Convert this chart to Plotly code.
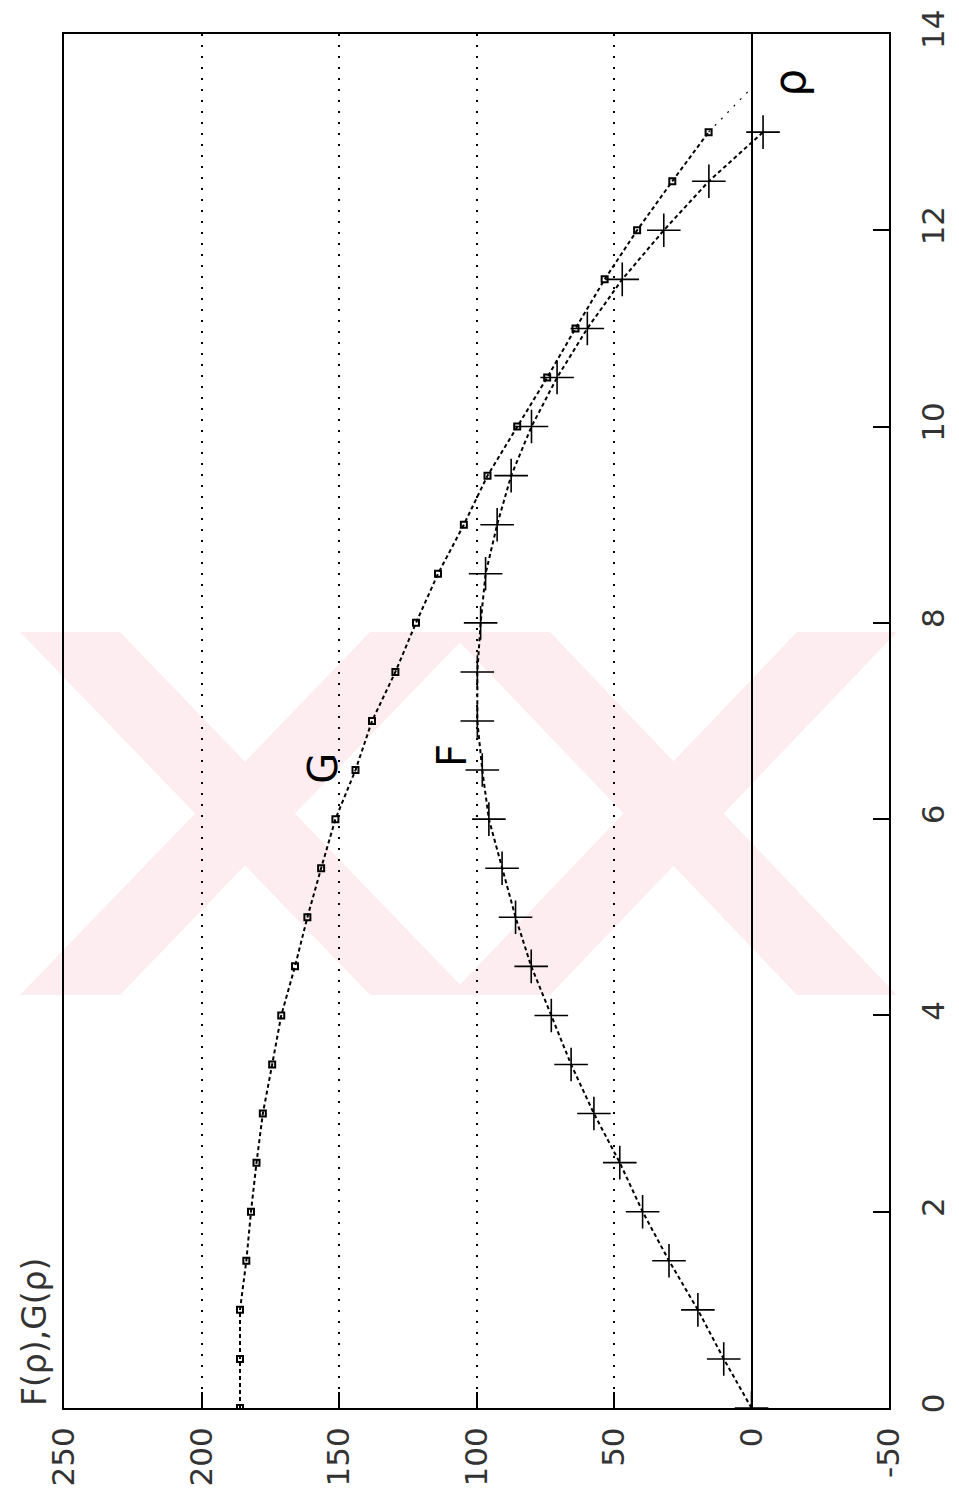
import plotly.graph_objects as go

# ---------------- data ----------------
rho = [0.0, 0.5, 1.0, 1.5, 2.0, 2.5, 3.0, 3.5, 4.0, 4.5, 5.0, 5.5, 6.0, 6.5,
       7.0, 7.5, 8.0, 8.5, 9.0, 9.5, 10.0, 10.5, 11.0, 11.5, 12.0, 12.5, 13.0]
F_vals = [0.0, 10.1, 19.5, 30.0, 39.6, 47.9, 57.3, 65.6, 72.8, 80.1, 85.8, 90.7,
          95.5, 97.9, 99.7, 99.7, 98.5, 96.7, 92.5, 87.4, 80.0, 70.7, 59.7, 47.0,
          31.9, 15.5, -4.2]
G_vals = [186.0, 186.0, 186.0, 183.7, 182.0, 180.0, 177.7, 174.3, 171.0, 166.0,
          161.5, 156.5, 151.3, 144.0, 138.0, 129.5, 122.0, 114.0, 104.6, 96.0,
          85.2, 74.3, 64.0, 53.4, 41.6, 28.8, 15.6]
G_tail_rho = [13.0, 13.45]
G_tail_vals = [15.6, 0.0]

value_ticks = [250, 200, 150, 100, 50, 0, -50]
value_labels = ["250", "200", "150", "100", "50", "0", "-50"]
rho_ticks = [0, 2, 4, 6, 8, 10, 12, 14]
rho_labels = ["0", "2", "4", "6", "8", "10", "12", "14"]

# ---------------- layout geometry ----------------
W, H = 959, 1503
ML, MR, MT, MB = 64, 70, 34, 95
PW, PH = W - ML - MR, H - MT - MB


def px(x):
    return (x - ML) / PW


def py(y):
    return (H - MB - y) / PH


fig = go.Figure()

fig.add_trace(go.Scatter(
    x=G_vals, y=rho, mode="lines+markers", name="G",
    line=dict(color="black", width=2, dash="4px,3px"),
    marker=dict(symbol="square-open", size=6, color="black",
                line=dict(width=2, color="black")),
    showlegend=False))
fig.add_trace(go.Scatter(
    x=G_tail_vals, y=G_tail_rho, mode="lines",
    line=dict(color="black", width=1.2, dash="2px,7px"),
    showlegend=False))
fig.add_trace(go.Scatter(
    x=F_vals, y=rho, mode="lines+markers", name="F",
    line=dict(color="black", width=2, dash="4px,3px"),
    marker=dict(symbol="cross-thin", size=24, color="black",
                line=dict(width=1.6, color="black")),
    showlegend=False))

# faint watermark (decorative pink "XX")
wm = "#fdedf0"
y0, y1 = 632, 995
shapes = []
for (x0, x1) in [(20, 470), (450, 897)]:
    bw = 100
    band1 = [(x0, y0), (x0 + bw, y0), (x1, y1), (x1 - bw, y1)]
    band2 = [(x1 - bw, y0), (x1, y0), (x0 + bw, y1), (x0, y1)]
    for band in (band1, band2):
        path = "M " + " L ".join(f"{px(a):.5f},{py(b):.5f}" for a, b in band) + " Z"
        shapes.append(dict(type="path", xref="paper", yref="paper", path=path,
                           fillcolor=wm, line=dict(width=0), layer="below"))

tick_font = dict(family="DejaVu Sans", size=31, color="#333333")

fig.update_layout(
    width=W, height=H,
    margin=dict(l=ML, r=MR, t=MT, b=MB, autoexpand=False),
    paper_bgcolor="white", plot_bgcolor="rgba(0,0,0,0)",
    shapes=shapes,
    xaxis=dict(
        range=[250, -50], autorange=False, automargin=False,
        tickvals=value_ticks, ticktext=value_labels,
        tickangle=-90, tickfont=tick_font,
        ticks="inside", ticklen=16, tickcolor="black", tickwidth=1.5,
        ticklabelstandoff=5,
        showline=True, linecolor="black", linewidth=2, mirror=True,
        showgrid=True, gridcolor="black", gridwidth=1.5, griddash="2px,9px",
        zeroline=True, zerolinecolor="black", zerolinewidth=2,
    ),
    yaxis=dict(
        range=[0, 14], autorange=False, side="right", automargin=False,
        tickvals=rho_ticks, ticktext=rho_labels,
        tickangle=-90, tickfont=tick_font,
        ticks="inside", ticklen=16, tickcolor="black", tickwidth=1.5,
        ticklabelstandoff=16,
        showline=True, linecolor="black", linewidth=2, mirror=True,
        showgrid=False, zeroline=False,
    ),
    annotations=[
        dict(text="F(ρ),G(ρ)", xref="paper", yref="paper", x=px(34), y=0,
             xanchor="center", yanchor="bottom", textangle=-90, showarrow=False,
             font=dict(family="DejaVu Sans", size=33, color="#333333")),
        dict(text="G", xref="x", yref="y", x=155.6, y=6.52, textangle=-90,
             showarrow=False, font=dict(family="DejaVu Sans", size=40, color="black")),
        dict(text="F", xref="x", yref="y", x=108.7, y=6.65, textangle=-90,
             showarrow=False, font=dict(family="DejaVu Sans", size=40, color="black")),
        dict(text="ρ", xref="x", yref="y", x=-13.5, y=13.5, textangle=-90,
             showarrow=False, font=dict(family="DejaVu Sans", size=44, color="black")),
    ],
)

fig.write_html("out.html")
